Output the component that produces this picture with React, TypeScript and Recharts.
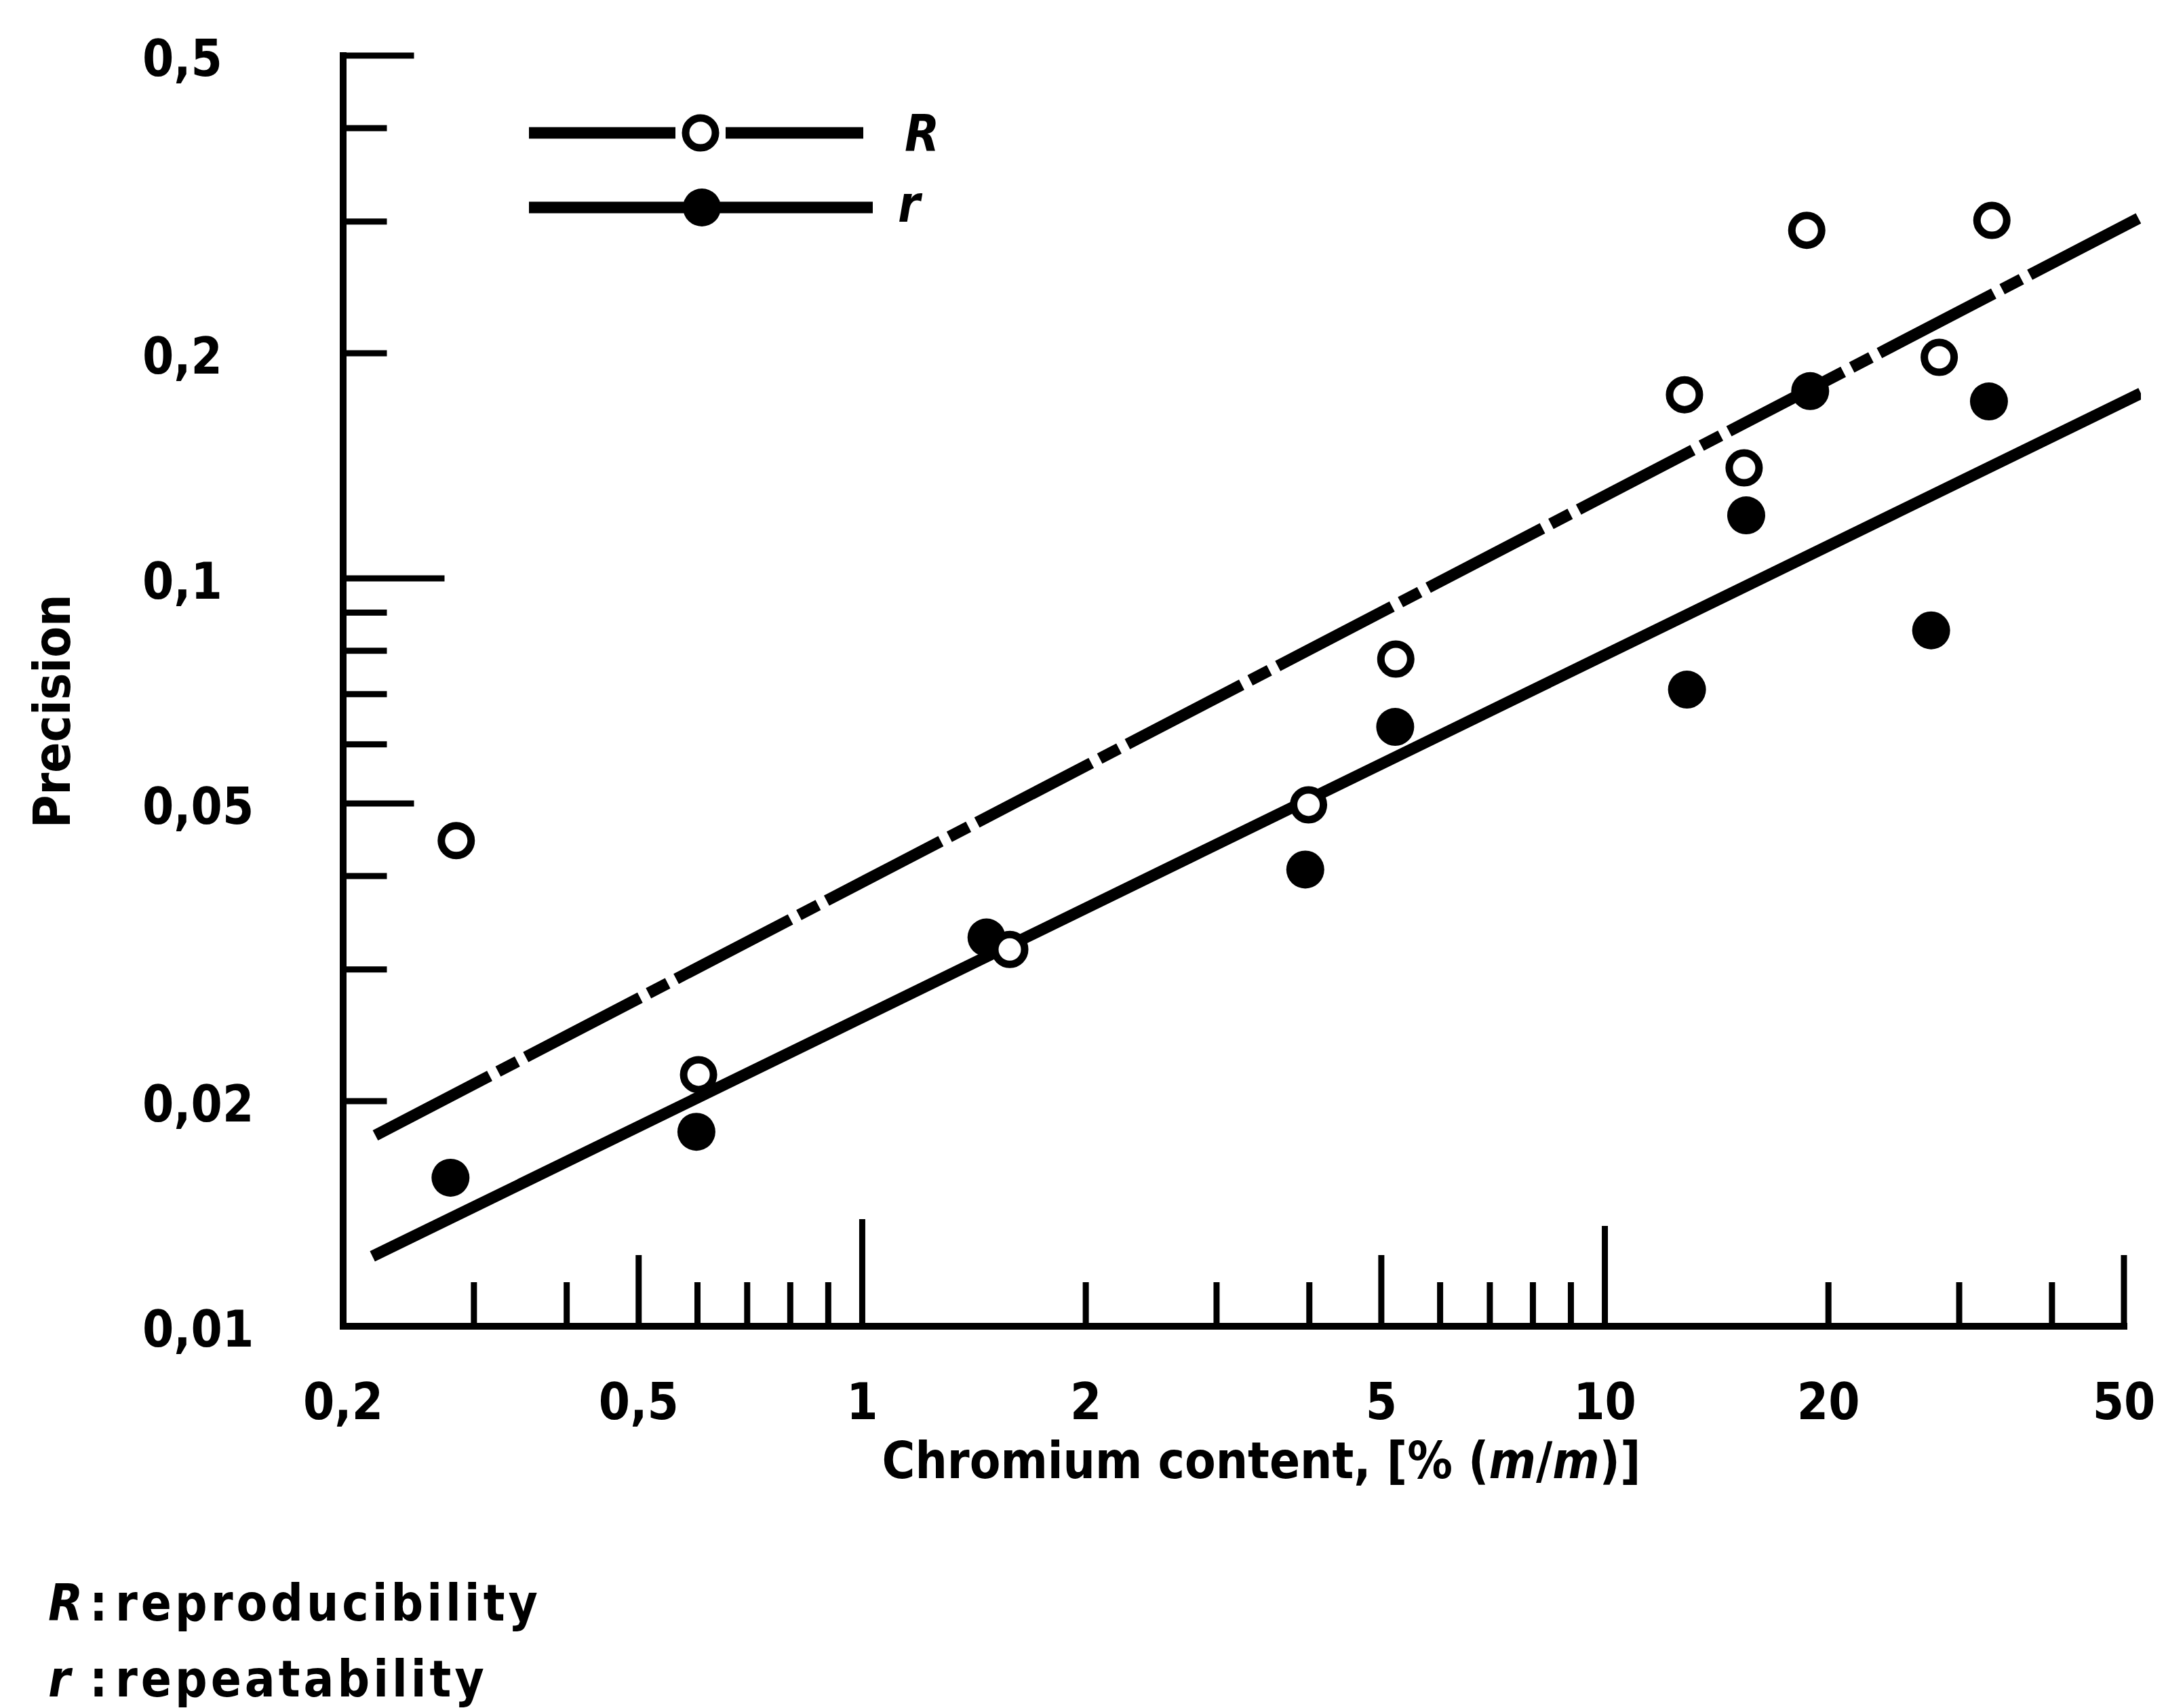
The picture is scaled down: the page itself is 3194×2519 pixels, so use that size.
import React from "react";
import { ComposedChart, Legend, Line, ReferenceLine, Scatter, XAxis, YAxis } from "recharts";

const FONT = "'DejaVu Sans Condensed', 'DejaVu Sans', sans-serif";

// R : reproducibility (open circles)
const reproContent = [0.284, 0.602, 1.58, 3.99, 5.23, 12.8, 15.4, 18.7, 28.2, 33.2];
const reproValue = [0.0446, 0.0217, 0.0319, 0.0498, 0.078, 0.176, 0.1405, 0.292, 0.1975, 0.301];

// r : repeatability (filled circles)
const repeatContent = [0.279, 0.598, 1.47, 3.95, 5.22, 12.9, 15.5, 18.9, 27.5, 32.9];
const repeatValue = [0.0158, 0.0182, 0.0331, 0.0408, 0.0633, 0.071, 0.1214, 0.178, 0.0852, 0.1724];

// regression lines, end points
const reproFitContent = [0.221, 52.3];
const reproFitValue = [0.018, 0.303];
const repeatFitContent = [0.219, 52.7];
const repeatFitValue = [0.0124, 0.1768];

// axes
const xTicks = [0.2, 0.3, 0.4, 0.5, 0.6, 0.7, 0.8, 0.9, 1, 2, 3, 4, 5, 6, 7, 8, 9, 10, 20, 30, 40, 50];
const xTickLabels = [0.2, 0.5, 1, 2, 5, 10, 20, 50];
const yTicks = [0.01, 0.02, 0.03, 0.04, 0.05, 0.06, 0.07, 0.08, 0.09, 0.1, 0.2, 0.3, 0.4, 0.5];
const yTickLabels = [0.01, 0.02, 0.05, 0.1, 0.2, 0.5];

const toPoints = (xs: number[], ys: number[]) => xs.map((x, i) => ({ x, y: ys[i] }));

const reproData = toPoints(reproContent, reproValue);
const repeatData = toPoints(repeatContent, repeatValue);
const reproFit = toPoints(reproFitContent, reproFitValue);
const repeatFit = toPoints(repeatFitContent, repeatFitValue);

const fmt = (v: number) => String(v).replace(".", ",");

const textStyle = { fontFamily: FONT, fontWeight: "bold" as const, fontSize: 74, fill: "#000" };

// tick marks of the log grid point into the plot, decades longer
const xTickLen = (v: number) => {
  if (v === 0.2) return 0;
  if (v === 1) return 158;
  if (v === 10) return 148;
  if (v === 0.5 || v === 5 || v === 50) return 105;
  return 65;
};

const yTickLen = (v: number) => {
  if (v === 0.01) return 0;
  if (v === 0.1) return 145;
  if (v === 0.5 || v === 0.05) return 100;
  return 60;
};

const XTick = (props: any) => {
  const { x, y, payload } = props;
  const v = payload.value;
  const len = xTickLen(v);
  return (
    <g>
      {len > 0 && <line x1={x} x2={x} y1={y} y2={y - len} stroke="#000" strokeWidth={9} />}
      {xTickLabels.includes(v) && (
        <text x={x} y={y + 137} textAnchor="middle" {...textStyle}>
          {fmt(v)}
        </text>
      )}
    </g>
  );
};

const YTick = (props: any) => {
  const { x, y, payload } = props;
  const v = payload.value;
  const len = yTickLen(v);
  return (
    <g>
      {len > 0 && <line x1={x} x2={x + len} y1={y} y2={y} stroke="#000" strokeWidth={9} strokeLinecap="square" />}
      {yTickLabels.includes(v) && (
        <text x={x - 296} y={y + 4} textAnchor="start" dominantBaseline="central" {...textStyle}>
          {fmt(v)}
        </text>
      )}
    </g>
  );
};

const OpenDot = (p: any) => <circle cx={p.cx} cy={p.cy} r={22} fill="#fff" stroke="#000" strokeWidth={11} />;
const FilledDot = (p: any) => <circle cx={p.cx} cy={p.cy} r={28} fill="#000" />;

const XTitle = () => (
  <text x={1860} y={2180} textAnchor="middle" {...textStyle}>
    Chromium content, [% (<tspan fontStyle="italic">m</tspan>/<tspan fontStyle="italic">m</tspan>)]
  </text>
);

const YTitle = () => (
  <text transform="translate(77,1049) rotate(-90)" textAnchor="middle" dominantBaseline="central" {...textStyle}>
    Precision
  </text>
);

const LegendBox = () => (
  <svg width={1500} height={400} style={{ display: "block" }}>
    <line x1={780} x2={996} y1={196} y2={196} stroke="#000" strokeWidth={17} />
    <line x1={1070} x2={1273} y1={196} y2={196} stroke="#000" strokeWidth={17} />
    <circle cx={1033} cy={196} r={22} fill="#fff" stroke="#000" strokeWidth={11} />
    <text x={1334} y={223} fontStyle="italic" {...textStyle}>R</text>
    <line x1={780} x2={1287} y1={306} y2={306} stroke="#000" strokeWidth={17} />
    <circle cx={1035} cy={306} r={28} fill="#000" />
    <text x={1324} y={327} fontStyle="italic" {...textStyle}>r</text>
  </svg>
);

const App = () => {
  return (
    <div style={{ position: "absolute", left: 0, top: 0, width: 3194, height: 2519, background: "#fff" }}>
      <ComposedChart width={3194} height={2519} margin={{ top: 82, right: 37, bottom: 443, left: 206 }}>
        <XAxis
          type="number"
          dataKey="x"
          scale="log"
          domain={[0.2, 52.7]}
          allowDataOverflow
          ticks={xTicks}
          interval={0}
          height={120}
          axisLine={false}
          tickLine={false}
          tickSize={0}
          tickMargin={0}
          tick={XTick}
          label={{ content: XTitle }}
        />
        <YAxis
          type="number"
          dataKey="y"
          scale="log"
          domain={[0.01, 0.5]}
          allowDataOverflow
          ticks={yTicks}
          interval={0}
          width={300}
          axisLine={{ stroke: "#000", strokeWidth: 10, strokeLinecap: "square" }}
          tickLine={false}
          tickSize={0}
          tickMargin={0}
          tick={YTick}
          label={{ content: YTitle }}
        />
        <ReferenceLine
          segment={[{ x: 0.2, y: 0.01 }, { x: 50, y: 0.01 }]}
          stroke="#000"
          strokeWidth={10}
          strokeLinecap="square"
          ifOverflow="visible"
        />
        <Line
          data={reproFit}
          dataKey="y"
          name="R"
          type="linear"
          stroke="#000"
          strokeWidth={17}
          strokeDasharray="190 14 32 14"
          dot={false}
          activeDot={false}
          isAnimationActive={false}
        />
        <Line
          data={repeatFit}
          dataKey="y"
          name="r"
          type="linear"
          stroke="#000"
          strokeWidth={17}
          dot={false}
          activeDot={false}
          isAnimationActive={false}
        />
        <Scatter data={repeatData} dataKey="y" shape={FilledDot} isAnimationActive={false} />
        <Scatter data={reproData} dataKey="y" shape={OpenDot} isAnimationActive={false} />
        <Legend
          layout="vertical"
          align="center"
          verticalAlign="middle"
          content={LegendBox}
          wrapperStyle={{ position: "absolute", left: 0, top: 0, width: 1500, height: 400 }}
        />
      </ComposedChart>
      <svg width={1000} height={300} style={{ position: "absolute", left: 0, top: 2260 }}>
        <text x={71} y={130} {...textStyle}>
          <tspan fontStyle="italic">R</tspan>
        </text>
        <text x={132} y={130} {...textStyle}>:</text>
        <text x={170} y={130} {...textStyle} letterSpacing={5}>reproducibility</text>
        <text x={71} y={242} {...textStyle}>
          <tspan fontStyle="italic">r</tspan>
        </text>
        <text x={132} y={242} {...textStyle}>:</text>
        <text x={170} y={242} {...textStyle} letterSpacing={5}>repeatability</text>
      </svg>
    </div>
  );
};

export default App;
